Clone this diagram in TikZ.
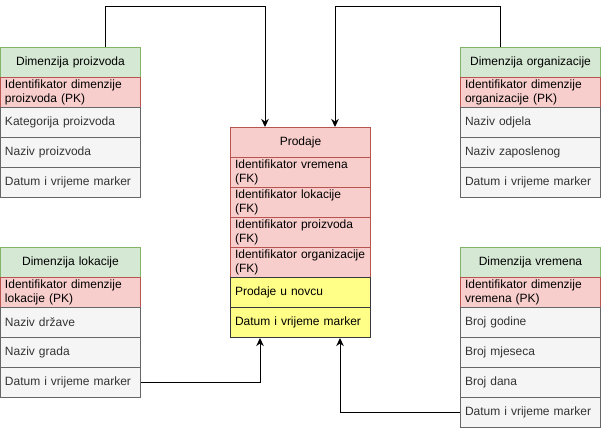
\documentclass[tikz,border=0pt]{standalone}
\usepackage{fontspec}
\setmainfont{Liberation Sans}
\usetikzlibrary{arrows.meta}
% keep table texts unbroken
\hyphenpenalty=10000
\exhyphenpenalty=10000

\definecolor{hdrFill}{HTML}{D5E8D4}
\definecolor{hdrLine}{HTML}{82B366}
\definecolor{keyFill}{HTML}{F8CECC}
\definecolor{keyLine}{HTML}{B85450}
\definecolor{attrFill}{HTML}{F5F5F5}
\definecolor{attrLine}{HTML}{666666}
\definecolor{attrText}{HTML}{333333}
\definecolor{sumFill}{HTML}{FFFF88}
\definecolor{sumLine}{HTML}{36393D}

\tikzset{
  cell/.style={anchor=north west, minimum height=30pt, text width=131pt,
    inner xsep=4.5pt, inner ysep=0pt, line width=1pt,
    font=\fontsize{12}{13.5}\selectfont},
  headcell/.style={cell, fill=hdrFill, draw=hdrLine, align=center},
  keycell/.style={cell, fill=keyFill, draw=keyLine, align=left},
  keyhead/.style={cell, fill=keyFill, draw=keyLine, align=center},
  attrcell/.style={cell, fill=attrFill, draw=attrLine, text=attrText, align=left},
  sumcell/.style={cell, fill=sumFill, draw=sumLine, align=left},
  link/.style={line width=1pt, draw=black,
    -{Stealth[length=8pt, width=7.5pt, inset=2.5pt]}}
}

\begin{document}
\begin{tikzpicture}[x=1pt, y=-1pt]
\useasboundingbox (0,0) rectangle (601,428);

% Dimenzija proizvoda
\node[headcell] (ph) at (0,47) {Dimenzija proizvoda};
\node[keycell]  (pk) at (0,77) {Identifikator dimenzije\\proizvoda (PK)};
\node[attrcell] (pa) at (0,107) {Kategorija proizvoda};
\node[attrcell] (pb) at (0,137) {Naziv proizvoda};
\node[attrcell] (pd) at (0,167) {Datum i vrijeme marker};

% Dimenzija organizacije
\node[headcell] (oh) at (460,47) {Dimenzija organizacije};
\node[keycell]  (ok) at (460,77) {Identifikator dimenzije\\organizacije (PK)};
\node[attrcell] (oa) at (460,107) {Naziv odjela};
\node[attrcell] (ob) at (460,137) {Naziv zaposlenog};
\node[attrcell] (od) at (460,167) {Datum i vrijeme marker};

% Dimenzija lokacije
\node[headcell] (lh) at (0,247) {Dimenzija lokacije};
\node[keycell]  (lk) at (0,277) {Identifikator dimenzije\\lokacije (PK)};
\node[attrcell] (la) at (0,307) {Naziv države};
\node[attrcell] (lb) at (0,337) {Naziv grada};
\node[attrcell] (ld) at (0,367) {Datum i vrijeme marker};

% Dimenzija vremena
\node[headcell] (vh) at (460,247) {Dimenzija vremena};
\node[keycell]  (vk) at (460,277) {Identifikator dimenzije\\vremena (PK)};
\node[attrcell] (va) at (460,307) {Broj godine};
\node[attrcell] (vb) at (460,337) {Broj mjeseca};
\node[attrcell] (vc) at (460,367) {Broj dana};
\node[attrcell] (vd) at (460,397) {Datum i vrijeme marker};

% Prodaje (fact table)
\node[keyhead] (fh) at (230,127) {Prodaje};
\node[keycell] (fv) at (230,157) {Identifikator vremena\\(FK)};
\node[keycell] (fl) at (230,187) {Identifikator lokacije\\(FK)};
\node[keycell] (fp) at (230,217) {Identifikator proizvoda\\(FK)};
\node[keycell] (fo) at (230,247) {Identifikator organizacije\\(FK)};
\node[sumcell] (fs) at (230,277) {Prodaje u novcu};
\node[sumcell] (fd) at (230,307) {Datum i vrijeme marker};

% Connectors
\draw[link] ([xshift=105pt]ph.north west) -- ++(0,-40)
  -| ([xshift=35pt]fh.north west);
\draw[link] ([xshift=40pt]oh.north west) -- ++(0,-40)
  -| ([xshift=105pt]fh.north west);
\draw[link] (ld.east) -| ([xshift=30pt]fd.south west);
\draw[link] (vd.west) -| ([xshift=110pt]fd.south west);
\end{tikzpicture}
\end{document}
